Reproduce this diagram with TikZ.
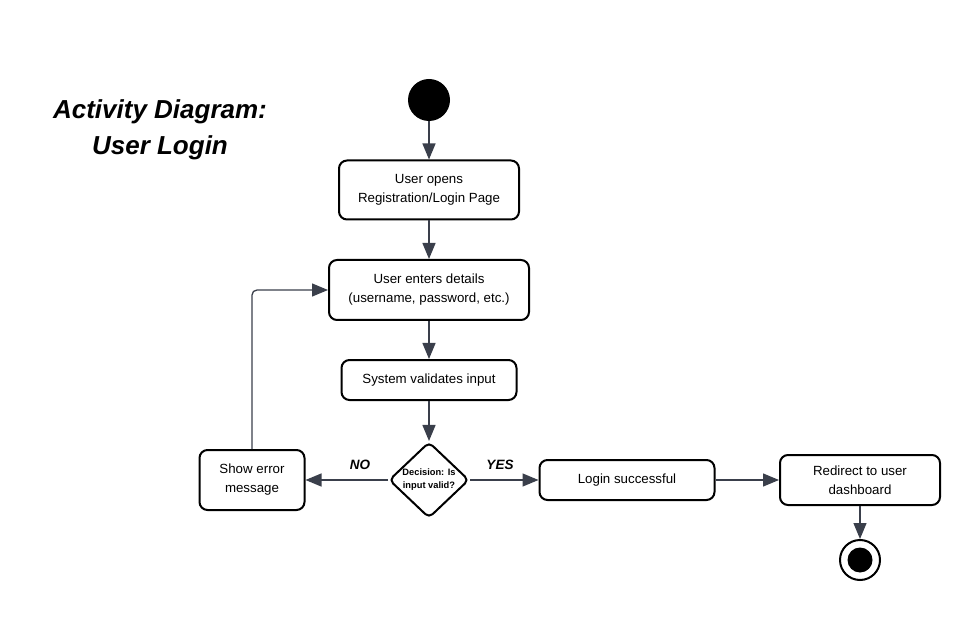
\documentclass[tikz,border=0pt]{standalone}
\usepackage{fontspec}
\setmainfont{Liberation Sans}
\usetikzlibrary{shapes.geometric,arrows.meta}
\definecolor{arr}{HTML}{3A3F4B}
\tikzset{
  act/.style={draw=black, line width=2pt, rounded corners=8pt, fill=white, align=center,
    font=\fontsize{13.3}{19}\selectfont, inner sep=0pt},
  conn/.style={draw=arr, line width=1.3pt, -{Triangle[length=16pt,width=13pt]}},
  lbl/.style={font=\fontsize{13.5}{15}\selectfont\bfseries\itshape},
}
\begin{document}
\begin{tikzpicture}[x=1pt,y=-1pt]
\useasboundingbox (0,0) rectangle (980,620);
\node[font=\fontsize{26}{36}\selectfont\bfseries\itshape, align=center] (title) at (160,130) {Activity Diagram:\\User Login};
\node[circle, fill=black, minimum size=42pt, inner sep=0pt] (start) at (429,100) {};
\node[act, minimum width=180pt, minimum height=59pt] (b1) at (429,190) {User opens\\Registration/Login Page};
\node[act, minimum width=200pt, minimum height=60pt] (b2) at (429,290) {User enters details\\(username, password, etc.)};
\node[act, minimum width=175pt, minimum height=40pt] (b3) at (429,380) {System validates input};
\node[diamond, draw=black, line width=2pt, rounded corners=5pt, minimum width=80pt, minimum height=76pt, inner sep=0pt, align=center, font=\fontsize{9.3}{13}\selectfont\bfseries] (d) at (429,480) {Decision: Is\\input valid?};
\node[act, minimum width=105pt, minimum height=60pt] (err) at (252,480) {Show error\\message};
\node[act, minimum width=175pt, minimum height=40pt] (ok) at (627,480) {Login successful};
\node[act, minimum width=160pt, minimum height=50pt] (red) at (860,480) {Redirect to user\\dashboard};
\node[circle, draw=black, line width=2pt, fill=white, minimum size=40pt, inner sep=0pt] (end) at (860,560) {};
\node[circle, fill=black, minimum size=25pt, inner sep=0pt] (endin) at (end) {};
\draw[conn] (start) -- (b1);
\draw[conn] (b1) -- (b2);
\draw[conn] (b2) -- (b3);
\draw[conn] (b3) -- (d);
\draw[conn] (d) -- (err);
\draw[conn] (d) -- (ok);
\draw[conn] (ok) -- (red);
\draw[conn] (red) -- (end);
\draw[conn, rounded corners=5pt] (err.north) |- (b2.west);
\node[lbl] (no) at (360,465) {NO};
\node[lbl] (yes) at (500,465) {YES};
\end{tikzpicture}
\end{document}
